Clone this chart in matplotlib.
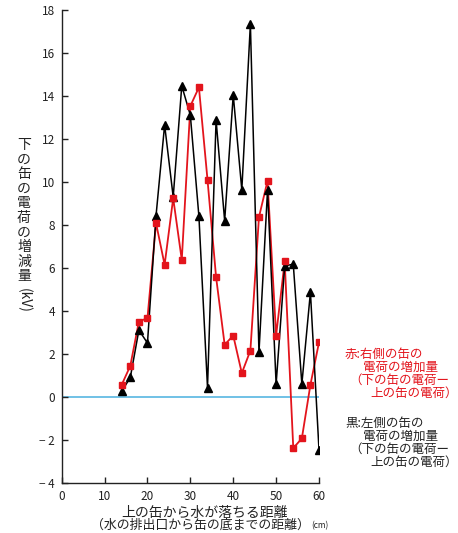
import matplotlib
matplotlib.use("Agg")
import matplotlib.pyplot as plt

plt.rcParams['font.family'] = ['Noto Sans CJK JP', 'DejaVu Sans']

# Distance the water falls from the upper can (cm)
distance = [14, 16, 18, 20, 22, 24, 26, 28, 30, 32, 34, 36, 38, 40,
            42, 44, 46, 48, 50, 52, 54, 56, 58, 60]

# Red: right-hand can, charge increase (kV)
right_can = [0.56, 1.44, 3.5, 3.66, 8.08, 6.14, 9.24, 6.37, 13.53, 14.4,
             10.1, 5.57, 2.42, 2.85, 1.1, 2.15, 8.36, 10.05, 2.85, 6.3,
             -2.39, -1.94, 0.56, 2.53]

# Black: left-hand can, charge increase (kV)
left_can = [0.25, 0.9, 3.1, 2.5, 8.43, 12.65, 9.3, 14.47, 13.1, 8.39,
            0.43, 12.88, 8.19, 14.05, 9.63, 17.35, 2.06, 9.63, 0.59, 6.09,
            6.17, 0.59, 4.87, -2.47]

y_ticks = [-4, -2, 0, 2, 4, 6, 8, 10, 12, 14, 16, 18]
x_ticks = [0, 10, 20, 30, 40, 50, 60]

RED = '#e3141c'
BLUE = '#58b6e2'
INK = '#222222'

W, H = 458, 533
fig = plt.figure(figsize=(W / 100, H / 100), dpi=100)
ax = fig.add_axes([61.7 / W, 1 - 482.7 / H, (319 - 61.7) / W, (482.7 - 10) / H])

ax.set_xlim(0, 60)
ax.set_ylim(-4, 18)

ax.axhline(0, color=BLUE, lw=1.2, zorder=1)

ax.plot(distance, right_can, color=RED, lw=1.3, zorder=2)
ax.plot(distance, left_can, color='black', lw=1.1, marker='^',
        markersize=6, zorder=3)
ax.plot(distance, right_can, color=RED, lw=0, marker='s',
        markersize=5, zorder=4)

for s in ['top', 'right']:
    ax.spines[s].set_visible(False)
for s in ['left', 'bottom']:
    ax.spines[s].set_linewidth(1.0)
    ax.spines[s].set_color(INK)

ax.set_xticks(x_ticks)
ax.set_yticks(y_ticks)
ax.set_yticklabels([('− %d' % abs(v)) if v < 0 else str(v) for v in y_ticks])
ax.tick_params(direction='in', length=4, width=1.0, labelsize=8.5,
               colors=INK, pad=5)

# Vertical (tategaki) y-axis title
ylabel_chars = '下の缶の電荷の増減量'
for i, ch in enumerate(ylabel_chars):
    fig.text(24 / W, 1 - (145 + i * 14.6) / H, ch, fontsize=10,
             ha='center', va='center', color=INK)
fig.text(24 / W, 1 - 300 / H, '(kV)', fontsize=10, rotation=-90,
         ha='center', va='center', color=INK)

# x-axis title
fig.text(204 / W, 1 - 512.5 / H, '上の缶から水が落ちる距離', fontsize=10,
         ha='center', va='center', color=INK)
fig.text(310 / W, 1 - 525.5 / H, '（水の排出口から缶の底までの距離）',
         fontsize=9.3, ha='right', va='center', color=INK)
fig.text(311 / W, 1 - 526 / H, '(cm)', fontsize=6,
         ha='left', va='center', color=INK)

# Series descriptions
def note(lines, y0, color):
    xs = [345, 363, 349, 370]
    for k, (txt, x) in enumerate(zip(lines, xs)):
        fig.text(x / W, 1 - (y0 + k * 13.1) / H, txt, fontsize=9,
                 ha='left', va='center', color=color)

note(['赤:右側の缶の', '電荷の増加量', '（下の缶の電荷ー', '上の缶の電荷）'],
     354.3, RED)
note(['黒:左側の缶の', '電荷の増加量', '（下の缶の電荷ー', '上の缶の電荷）'],
     423.3, INK)

fig.savefig('out.png', dpi=100)
